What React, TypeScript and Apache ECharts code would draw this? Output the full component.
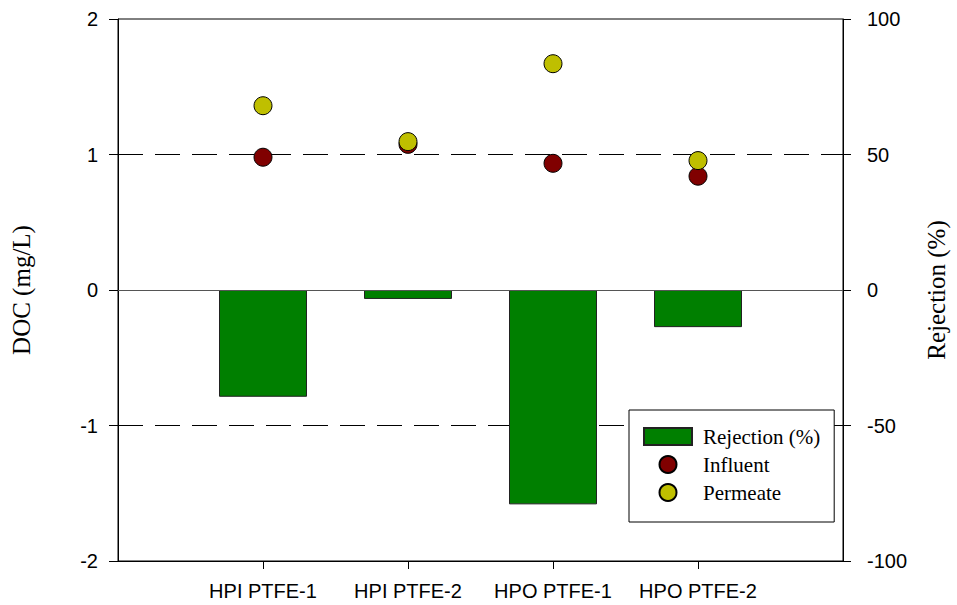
import React, { useEffect, useRef } from "react";
import * as echarts from "echarts";

// Sample fractions along the x axis (placed at 1..4 on a 0..5 value axis)
const categories = ["HPI PTFE-1", "HPI PTFE-2", "HPO PTFE-1", "HPO PTFE-2"];
const categoryPositions = [1, 2, 3, 4];

// DOC concentrations (mg/L), left axis
const influent = [0.98, 1.075, 0.935, 0.84];
const permeate = [1.36, 1.095, 1.67, 0.955];

// Rejection (%), right axis
const rejection = [-39.4, -3.3, -79.1, -13.7];

// Tick values
const docTicks = { min: -2, max: 2, interval: 1 };
const rejectionTicks = { min: -100, max: 100, interval: 50 };

const SANS = "'Liberation Sans', Arial, sans-serif";
const SERIF = "'Liberation Serif', 'Times New Roman', serif";

export default function App() {
  const ref = useRef<HTMLDivElement>(null);

  useEffect(() => {
    if (!ref.current) return;
    const chart = echarts.init(ref.current, undefined, { renderer: "svg" });

    const pair = (vals: number[]) => vals.map((v, i) => [categoryPositions[i], v]);

    chart.setOption({
      animation: false,
      backgroundColor: "#fff",
      grid: {
        left: 118,
        width: 729,
        top: 19,
        height: 542,
        show: true,
        borderColor: "#000",
        borderWidth: 1,
      },
      legend: {
        orient: "vertical",
        left: 629,
        top: 410,
        backgroundColor: "#fff",
        borderColor: "#000",
        borderWidth: 1,
        padding: [16, 14, 19, 14],
        itemWidth: 48,
        itemHeight: 17,
        itemGap: 7,
        textStyle: { fontFamily: SERIF, fontSize: 21, color: "#000", padding: [0, 0, 0, 6] },
        data: [
          { name: "Rejection (%)", icon: "rect" },
          { name: "Influent", icon: "circle" },
          { name: "Permeate", icon: "circle" },
        ],
      },
      xAxis: {
        type: "value",
        min: 0,
        max: 5,
        interval: 1,
        axisLine: { show: true, onZero: false, lineStyle: { color: "#000", width: 1 } },
        axisTick: {
          show: true,
          inside: false,
          length: 8,
          customValues: categoryPositions,
          lineStyle: { color: "#000" },
        },
        axisLabel: {
          customValues: categoryPositions,
          margin: 20,
          fontFamily: SANS,
          fontSize: 20,
          color: "#000",
          formatter: (v: number) => categories[categoryPositions.indexOf(v)] ?? "",
        },
        splitLine: { show: false },
      },
      yAxis: [
        {
          type: "value",
          ...docTicks,
          position: "left",
          name: "DOC (mg/L)",
          nameLocation: "middle",
          nameRotate: 90,
          nameGap: 84,
          nameTextStyle: { fontFamily: SERIF, fontSize: 25, color: "#000" },
          axisLine: { show: true, onZero: false, lineStyle: { color: "#000", width: 1 } },
          axisTick: { show: true, inside: false, length: 9, lineStyle: { color: "#000" } },
          axisLabel: { margin: 20, fontFamily: SANS, fontSize: 20, color: "#000" },
          splitLine: { show: false },
        },
        {
          type: "value",
          ...rejectionTicks,
          position: "right",
          name: "Rejection (%)",
          nameLocation: "middle",
          nameRotate: 90,
          nameGap: 81,
          nameTextStyle: { fontFamily: SERIF, fontSize: 25, color: "#000" },
          axisLine: { show: true, onZero: false, lineStyle: { color: "#000", width: 1 } },
          axisTick: { show: true, inside: false, length: 8, lineStyle: { color: "#000" } },
          axisLabel: { margin: 24, fontFamily: SANS, fontSize: 20, color: "#000" },
          splitLine: { show: false },
        },
      ],
      series: [
        {
          name: "Rejection (%)",
          type: "bar",
          yAxisIndex: 1,
          barWidth: 88,
          data: pair(rejection),
          itemStyle: { color: "#007f00", borderColor: "#222", borderWidth: 1 },
          z: 2,
          markLine: {
            silent: true,
            symbol: "none",
            label: { show: false },
            lineStyle: { color: "#555", type: "solid", width: 1 },
            data: [{ yAxis: 0 }],
            z: 3,
          },
        },
        {
          name: "Influent",
          type: "scatter",
          yAxisIndex: 0,
          symbol: "circle",
          symbolSize: 18,
          data: pair(influent),
          itemStyle: { color: "#800000", borderColor: "#000", borderWidth: 1, opacity: 1 },
          z: 5,
          markLine: {
            silent: true,
            symbol: "none",
            label: { show: false },
            lineStyle: { color: "#000", type: [25, 12], width: 1 },
            data: [{ yAxis: 1 }, { yAxis: -1 }],
            z: 1,
          },
        },
        {
          name: "Permeate",
          type: "scatter",
          yAxisIndex: 0,
          symbol: "circle",
          symbolSize: 18,
          data: pair(permeate),
          itemStyle: { color: "#bfbf00", borderColor: "#000", borderWidth: 1, opacity: 1 },
          z: 6,
        },
      ],
    });

    return () => chart.dispose();
  }, []);

  return (
    <div
      ref={ref}
      style={{ position: "fixed", left: 0, top: 0, width: 957, height: 605, background: "#fff" }}
    />
  );
}
